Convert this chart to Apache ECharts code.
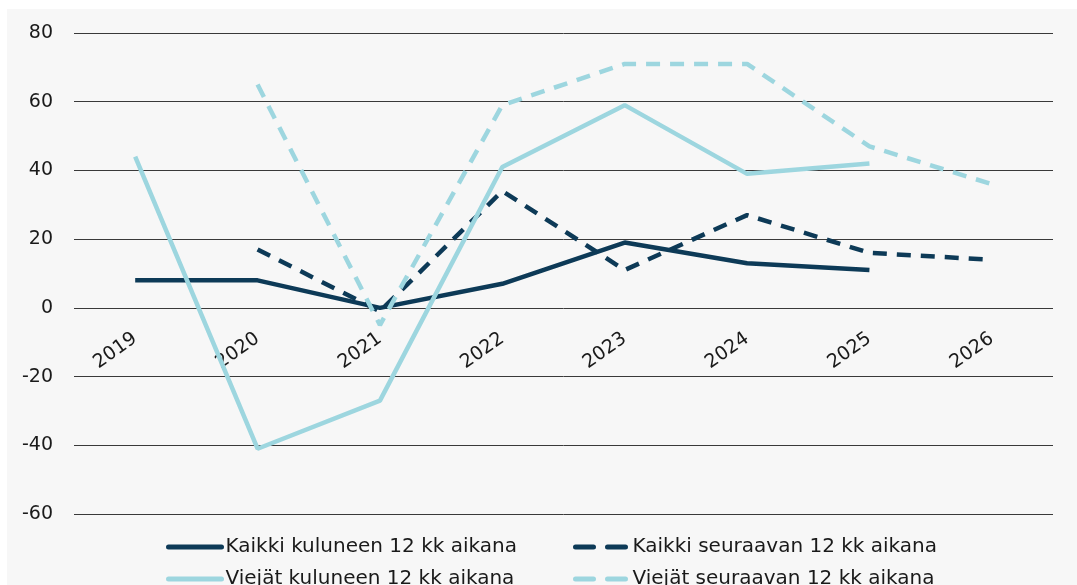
<!DOCTYPE html>
<html>
<head>
<meta charset="utf-8">
<script src="https://cdn.jsdelivr.net/npm/echarts@6/dist/echarts.min.js"></script>
<style>
  html, body { margin: 0; padding: 0; background: #ffffff; }
  #chart { width: 1077px; height: 585px; }
</style>
</head>
<body>
<div id="chart"></div>
<script>
// Data
const years = ['2019', '2020', '2021', '2022', '2023', '2024', '2025', '2026'];
const kaikkiKuluneen = [8, 8, 0, 7, 19, 13, 11, null];
const kaikkiSeuraavan = [null, 17, -1, 34, 11, 27, 16, 14];
const viejatKuluneen = [44, -41, -27, 41, 59, 39, 42, null];
const viejatSeuraavan = [null, 65, -5, 59, 71, 71, 47, 36];
const yTicks = { min: -60, max: 80, interval: 20 };

const names = [
    'Kaikki kuluneen 12 kk aikana',
    'Kaikki seuraavan 12 kk aikana',
    'Viejät kuluneen 12 kk aikana',
    'Viejät seuraavan 12 kk aikana'
];

const dark = '#0d3a57';
const light = '#9dd6df';
const font = 'DejaVu Sans';

function line(name, data, color, dashed) {
    return {
        name: name,
        type: 'line',
        data: data,
        symbol: 'none',
        connectNulls: false,
        lineStyle: {
            color: color,
            width: 4.5,
            type: dashed ? [14, 10] : 'solid',
            cap: 'butt'
        },
        itemStyle: { color: color }
    };
}

// one legend per entry so each lands where the reference has it
function legendAt(name, left, top, dashed) {
    return {
        data: [name],
        left: left,
        top: top,
        itemWidth: 53,
        itemHeight: 14,
        itemGap: 0,
        itemStyle: { opacity: 0 },
        lineStyle: { width: 5, type: dashed ? [18, 14] : 'solid', cap: 'round' },
        textStyle: { fontFamily: font, fontSize: 20, color: '#1a1a1a', padding: [0, 0, 0, -1] }
    };
}

const chart = echarts.init(document.getElementById('chart'));

// distance between the -60 line and the zero line, in pixels
const gridTop = 33, gridBottom = 71, chartH = 585;
const plotH = chartH - gridTop - gridBottom;
const zeroOffset = plotH * (0 - yTicks.min) / (yTicks.max - yTicks.min);

chart.setOption({
    animation: false,
    graphic: [{
        type: 'rect',
        z: -10,
        shape: { x: 7, y: 9, width: 1070, height: 576 },
        style: { fill: '#f7f7f7' }
    }],
    grid: { left: 74, right: 24, top: gridTop, bottom: gridBottom },
    legend: [
        legendAt(names[0], 161, 532, false),
        legendAt(names[1], 568, 532, true),
        legendAt(names[2], 161, 564, false),
        legendAt(names[3], 568, 564, true)
    ],
    xAxis: {
        type: 'category',
        data: years,
        boundaryGap: true,
        offset: -zeroOffset,
        axisLine: { show: false, onZero: false },
        axisTick: { show: false },
        axisLabel: {
            rotate: 35,
            margin: 29,
            fontFamily: font,
            fontSize: 19,
            color: '#1a1a1a'
        }
    },
    yAxis: {
        type: 'value',
        min: yTicks.min,
        max: yTicks.max,
        interval: yTicks.interval,
        axisLine: { show: false },
        axisTick: { show: false },
        axisLabel: { margin: 21, fontFamily: font, fontSize: 19, color: '#1a1a1a' },
        splitLine: { lineStyle: { color: '#3a3a3a', width: 1 } }
    },
    series: [
        line(names[0], kaikkiKuluneen, dark, false),
        line(names[1], kaikkiSeuraavan, dark, true),
        line(names[2], viejatKuluneen, light, false),
        line(names[3], viejatSeuraavan, light, true)
    ]
});
</script>
</body>
</html>
